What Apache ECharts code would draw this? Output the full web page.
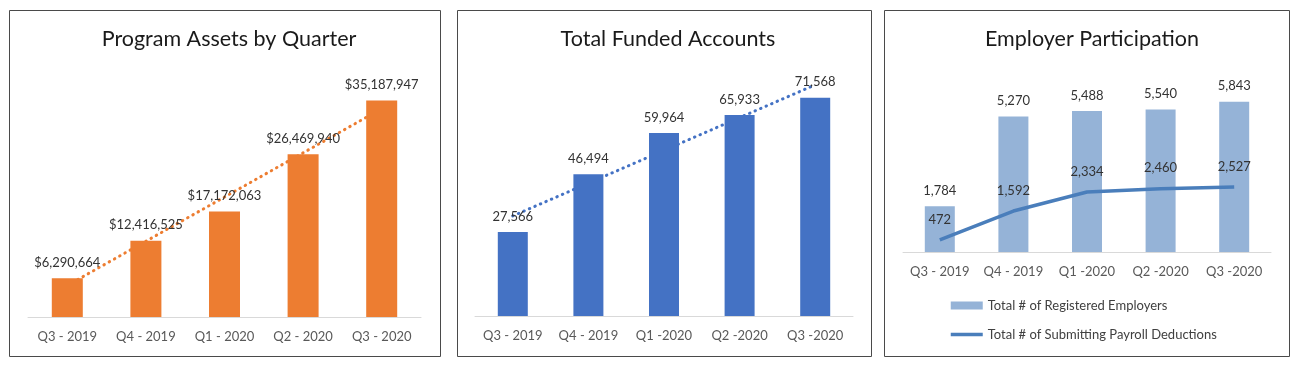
<!DOCTYPE html>
<html>
<head>
<meta charset="utf-8">
<script src="https://cdn.jsdelivr.net/npm/echarts@6/dist/echarts.min.js"></script>
<style>
html,body{margin:0;padding:0;background:#fff;}
#c{width:1297px;height:365px;}
</style>
</head>
<body>
<div id="c"></div>
<script>
// ---- data ----
const categoriesA = ['Q3 - 2019', 'Q4 - 2019', 'Q1 - 2020', 'Q2 - 2020', 'Q3 - 2020'];
const categoriesB = ['Q3 - 2019', 'Q4 - 2019', 'Q1 -2020', 'Q2 -2020', 'Q3 -2020'];
const programAssets = [6290664, 12416525, 17172063, 26469940, 35187947];
const fundedAccounts = [27566, 46494, 59964, 65933, 71568];
const registeredEmployers = [1784, 5270, 5488, 5540, 5843];
const submittingPayroll = [472, 1592, 2334, 2460, 2527];
const titles = ['Program Assets by Quarter', 'Total Funded Accounts', 'Employer Participation'];
const legendNames = ['Total # of Registered Employers', 'Total # of Submitting Payroll Deductions'];

// linear (least squares) trendline of a series, as Excel draws it
function linearTrend(arr) {
  const n = arr.length;
  let sx = 0, sy = 0, sxy = 0, sxx = 0;
  arr.forEach((v, i) => { const x = i + 1; sx += x; sy += v; sxy += x * v; sxx += x * x; });
  const b = (n * sxy - sx * sy) / (n * sxx - sx * sx);
  const a = (sy - b * sx) / n;
  return arr.map((v, i) => a + b * (i + 1));
}
const fmt = v => Math.round(v).toLocaleString('en-US');

const FONT = 'Lato';
const labelColor = '#333333';
const axisColor = '#595959';

const chart = echarts.init(document.getElementById('c'), null, {renderer: 'canvas'});

function xAxis(gi, cats) {
  return {
    type: 'category', gridIndex: gi, data: cats,
    axisLine: {lineStyle: {color: '#d9d9d9', width: 1}},
    axisTick: {show: false},
    axisLabel: {color: axisColor, fontFamily: FONT, fontSize: 13, margin: 13, interval: 0}
  };
}
function yAxis(gi, max) {
  return {type: 'value', gridIndex: gi, min: 0, max: max, show: false, splitLine: {show: false}};
}
const titleStyle = {fontFamily: FONT, fontSize: 21.5, fontWeight: 'normal', color: '#1a1a1a'};

const option = {
  backgroundColor: '#fff',
  animation: false,
  graphic: [
    {type: 'rect', shape: {x: 9.5, y: 10.5, width: 431, height: 346}, style: {fill: 'none', stroke: '#4a4a4a', lineWidth: 1}},
    {type: 'rect', shape: {x: 457.5, y: 10.5, width: 414, height: 346}, style: {fill: 'none', stroke: '#4a4a4a', lineWidth: 1}},
    {type: 'rect', shape: {x: 884.5, y: 10.5, width: 405, height: 346}, style: {fill: 'none', stroke: '#4a4a4a', lineWidth: 1}}
  ],
  title: [
    {text: titles[0], left: 224, top: 23, textAlign: 'center', textStyle: titleStyle},
    {text: titles[1], left: 663, top: 23, textAlign: 'center', textStyle: titleStyle},
    {text: titles[2], left: 1087, top: 23, textAlign: 'center', textStyle: titleStyle}
  ],
  grid: [
    {left: 28, top: 71, width: 393, height: 246},
    {left: 475, top: 72, width: 378, height: 244},
    {left: 903, top: 72, width: 368, height: 180}
  ],
  xAxis: [xAxis(0, categoriesA), xAxis(1, categoriesB), xAxis(2, categoriesB)],
  yAxis: [yAxis(0, 40000000), yAxis(1, 80000), yAxis(2, 7000)],
  legend: {
    orient: 'vertical', left: 944, top: 294, itemGap: 16,
    itemWidth: 32, itemHeight: 8,
    textStyle: {fontFamily: FONT, fontSize: 13, color: '#404040'},
    data: [
      {name: legendNames[0], icon: 'rect'},
      {name: legendNames[1], itemStyle: {opacity: 0}, lineStyle: {width: 3.5, color: '#4A7EBB'}}
    ]
  },
  series: [
    {
      type: 'line', xAxisIndex: 0, yAxisIndex: 0, z: 1, data: linearTrend(programAssets),
      symbol: 'none', silent: true,
      lineStyle: {color: '#ED7D31', width: 3, type: [0.5, 5.5], cap: 'round'}
    },
    {
      type: 'bar', xAxisIndex: 0, yAxisIndex: 0, z: 3, data: programAssets, barWidth: 31,
      itemStyle: {color: '#ED7D31'},
      label: {show: true, position: 'top', distance: 9, fontFamily: FONT, fontSize: 13, color: labelColor,
        formatter: p => '$' + fmt(p.value)}
    },
    {
      type: 'line', xAxisIndex: 1, yAxisIndex: 1, z: 1, data: linearTrend(fundedAccounts),
      symbol: 'none', silent: true,
      lineStyle: {color: '#4472C4', width: 3, type: [0.5, 5.5], cap: 'round'}
    },
    {
      type: 'bar', xAxisIndex: 1, yAxisIndex: 1, z: 3, data: fundedAccounts, barWidth: 30,
      itemStyle: {color: '#4472C4'},
      label: {show: true, position: 'top', distance: 9, fontFamily: FONT, fontSize: 13, color: labelColor,
        formatter: p => fmt(p.value)}
    },
    {
      name: legendNames[0],
      type: 'bar', xAxisIndex: 2, yAxisIndex: 2, z: 2, data: registeredEmployers, barWidth: 30,
      itemStyle: {color: '#95B3D7'},
      label: {show: true, position: 'top', distance: 9, fontFamily: FONT, fontSize: 13, color: labelColor,
        formatter: p => fmt(p.value)}
    },
    {
      name: legendNames[1],
      type: 'line', xAxisIndex: 2, yAxisIndex: 2, z: 4, data: submittingPayroll,
      symbol: 'circle', symbolSize: 0.01, showSymbol: true,
      itemStyle: {color: '#4A7EBB'},
      lineStyle: {color: '#4A7EBB', width: 3.5},
      label: {show: true, position: 'top', distance: 14, fontFamily: FONT, fontSize: 13, color: labelColor,
        formatter: p => fmt(p.value)}
    }
  ]
};
chart.setOption(option);
</script>
</body>
</html>
